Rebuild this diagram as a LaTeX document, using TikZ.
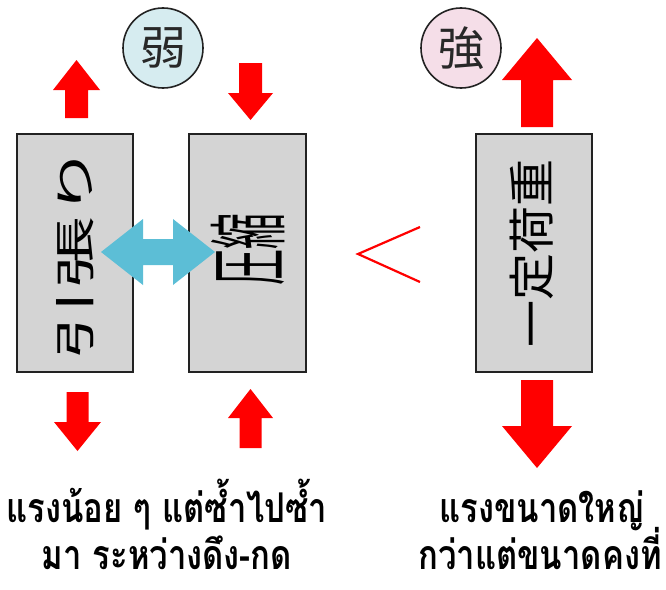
\documentclass[tikz,border=0pt]{standalone}
\usepackage{fontspec}
\newfontfamily\thaifont[Script=Thai]{Loma}
\newfontfamily\jpfont{Noto Sans CJK JP}
\definecolor{arrred}{RGB}{255,0,0}
\definecolor{arrblue}{RGB}{92,190,214}
\definecolor{boxgray}{RGB}{212,212,212}
\definecolor{weakfill}{RGB}{214,236,240}
\definecolor{strongfill}{RGB}{245,222,232}
\tikzset{
  panel/.style={draw={rgb,255:red,34;green,34;blue,34}, line width=2pt, fill=boxgray, inner sep=0pt},
  badge/.style={circle, draw={rgb,255:red,34;green,34;blue,34}, line width=1.6pt, inner sep=0pt, minimum size=80pt, text={rgb,255:red,40;green,40;blue,40}, font=\jpfont\fontsize{46}{46}\selectfont},
  force/.style={fill=arrred},
  jptext/.style={rotate=90, inner sep=0pt, text=black},
  thaitext/.style={anchor=base, inner sep=0pt, text depth=0pt, font=\thaifont\bfseries\fontsize{41}{41}\selectfont}
}
\begin{document}
\begin{tikzpicture}[x=1pt,y=-1pt]
\useasboundingbox (0,0) rectangle (666,589);
% boxes
\node[panel, minimum width=116pt, minimum height=238pt] (lbox) at (75,253) {};
\node[panel, minimum width=117pt, minimum height=238pt] (mbox) at (247.5,253) {};
\node[panel, minimum width=116pt, minimum height=238pt] (rbox) at (534,253) {};
% badges
\node[badge, fill=weakfill] (weak) at (163,48) {弱};
\node[badge, fill=strongfill] (strong) at (461,48) {強};
% red force arrows
\fill[force] (76.5,60) -- (100,90) -- (88,90) -- (88,118) -- (65,118) -- (65,90) -- (53,90) -- cycle;
\fill[force] (77.5,451) -- (101,422) -- (88.5,422) -- (88.5,392) -- (66.5,392) -- (66.5,422) -- (54,422) -- cycle;
\fill[force] (250.5,120) -- (273,93) -- (262,93) -- (262,63) -- (239,63) -- (239,93) -- (228,93) -- cycle;
\fill[force] (250.5,389) -- (273,418) -- (261.5,418) -- (261.5,448) -- (239.5,448) -- (239.5,418) -- (228,418) -- cycle;
\fill[force] (537,38) -- (572,80) -- (553,80) -- (553,127) -- (521,127) -- (521,80) -- (502,80) -- cycle;
\fill[force] (537,468) -- (572,426) -- (553,426) -- (553,380) -- (521,380) -- (521,426) -- (502,426) -- cycle;
% blue double arrow
\fill[arrblue] (101,252) -- (143,219) -- (143,239) -- (173,239) -- (173,219) -- (215,252) -- (173,285) -- (173,265) -- (143,265) -- (143,285) -- cycle;
% less-than sign
\draw[arrred, line width=2.2pt] (420,227) -- (358,254) -- (420,282);
% box texts
\node[jptext, font=\jpfont\fontsize{41}{41}\selectfont] (ltext) at (lbox.center) {\scalebox{1.75}[1]{引張り}};
\node[jptext, font=\jpfont\fontsize{80}{80}\selectfont] (mtext) at (248,249) {\scalebox{0.45}[1]{圧縮}};
\node[jptext, font=\jpfont\fontsize{47}{47}\selectfont] (rtext) at (532,253) {一定荷重};
% captions
\node[thaitext] (cap1a) at (167,522) {\scalebox{0.8}[1]{แรงน้อย ๆ แต่ซ้ำไปซ้ำ}};
\node[thaitext] (cap1b) at (167,569) {\scalebox{0.8}[1]{มา ระหว่างดึง-กด}};
\node[thaitext] (cap2a) at (542,522) {\scalebox{0.8}[1]{แรงขนาดใหญ่}};
\node[thaitext] (cap2b) at (540,569) {\scalebox{0.8}[1]{กว่าแต่ขนาดคงที่}};
\end{tikzpicture}
\end{document}
